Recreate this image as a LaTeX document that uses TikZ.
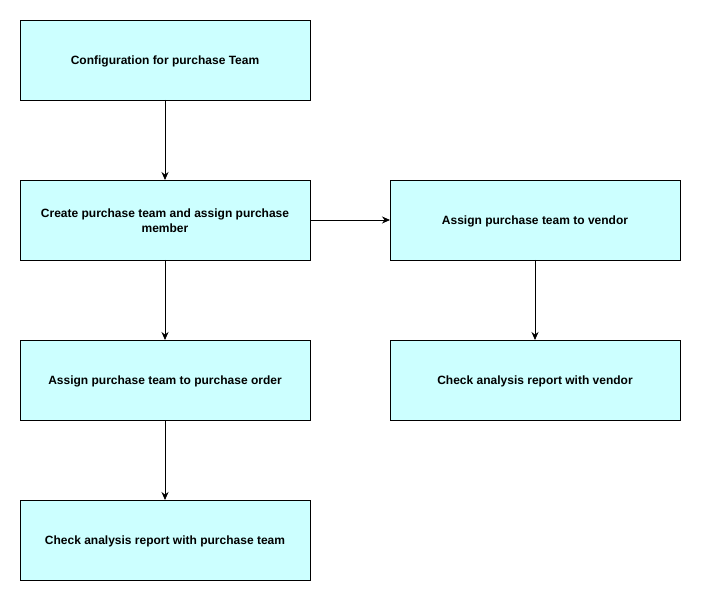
\documentclass[tikz,border=0pt]{standalone}
\usepackage{fontspec}
\setmainfont{Liberation Sans}
\usepackage{tikz}
\usetikzlibrary{arrows.meta,positioning}
\definecolor{boxfill}{HTML}{CCFFFF}
\tikzset{
  stepnode/.style = {rectangle, draw, fill=boxfill, line width=0.8pt, outer sep=0pt, minimum width=290pt, minimum height=80pt,
                     align=flush center, text width=270pt, text depth=0pt, inner sep=0pt, font=\fontsize{12pt}{15pt}\selectfont\bfseries},
  flow/.style = {-{Stealth[length=8pt,width=7pt]}, line width=0.8pt},
}
\begin{document}
\begin{tikzpicture}[node distance=80pt]
\useasboundingbox (0,0) rectangle (701pt,-601pt);
\node [stepnode] (config) at (165pt,-60pt) {Configuration for purchase Team};
\node [stepnode, below=of config, text depth=13.5pt] (team) {Create purchase team and assign purchase member};
\node [stepnode, below=of team] (order) {Assign purchase team to purchase order};
\node [stepnode, below=of order] (reportteam) {Check analysis report with purchase team};
\node [stepnode, right=of team] (vendor) {Assign purchase team to vendor};
\node [stepnode, below=of vendor] (reportvendor) {Check analysis report with vendor};

\draw [flow] (config) -- (team);
\draw [flow] (team) -- (order);
\draw [flow] (order) -- (reportteam);
\draw [flow] (team) -- (vendor);
\draw [flow] (vendor) -- (reportvendor);
\end{tikzpicture}
\end{document}
